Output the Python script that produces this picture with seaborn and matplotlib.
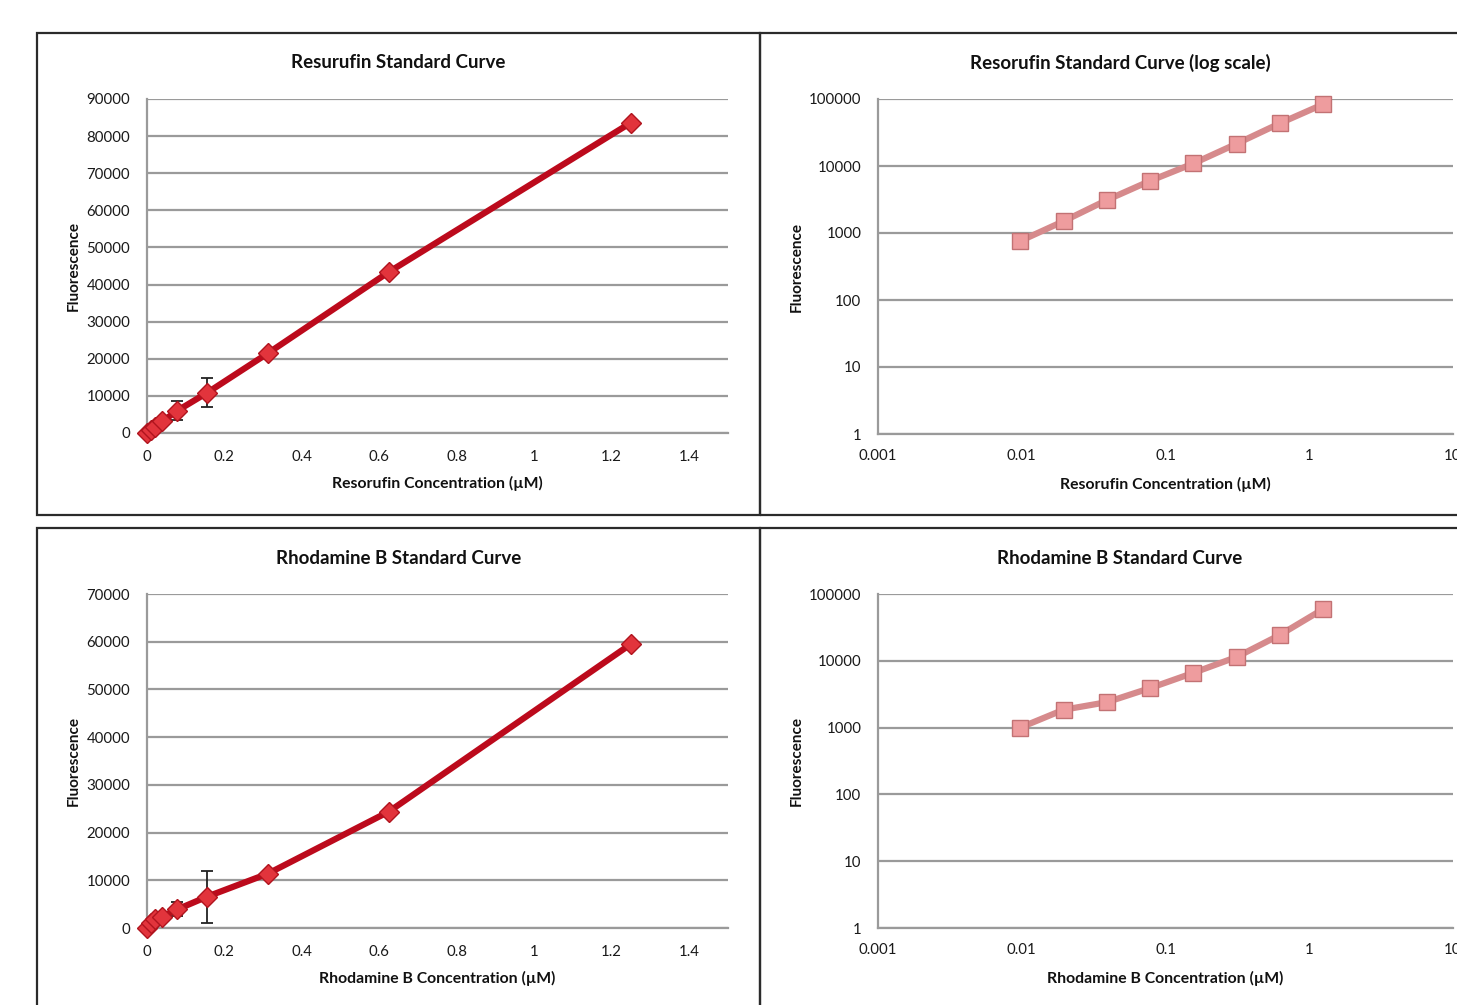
import matplotlib
matplotlib.use("Agg")
import matplotlib.pyplot as plt
import matplotlib.ticker as mticker
from matplotlib.patches import Rectangle
import seaborn as sns
import numpy as np

# ---------------- data ----------------
concentration = [0, 0.009765625, 0.01953125, 0.0390625, 0.078125, 0.15625, 0.3125, 0.625, 1.25]
resorufin_fluor = [0, 760, 1500, 3100, 6000, 10900, 21500, 43400, 83600]
resorufin_err = [0, 0, 0, 0, 2550, 3900, 0, 0, 0]
rhodamine_fluor = [0, 1000, 1850, 2400, 3900, 6600, 11400, 24400, 59500]
rhodamine_err = [0, 0, 0, 0, 1450, 5450, 0, 0, 0]

titles = ["Resurufin Standard Curve", "Resorufin Standard Curve (log scale)",
          "Rhodamine B Standard Curve", "Rhodamine B Standard Curve"]
xlabels = ["Resorufin Concentration (\u00b5M)", "Resorufin Concentration (\u00b5M)",
           "Rhodamine B Concentration (\u00b5M)", "Rhodamine B Concentration (\u00b5M)"]
ylabel = "Fluorescence"

sns.set_style("white")
plt.rcParams['font.family'] = ['Lato', 'DejaVu Sans']

W, H = 1457, 1005
fig = plt.figure(figsize=(W / 100, H / 100), dpi=100)

GRID = '#9a9a9a'
LIN_LINE = '#BC0A1C'
LIN_FACE = '#E2343C'
LIN_EDGE = '#B0141E'
LOG_LINE = '#D68A8C'
LOG_FACE = '#EE9C9E'
LOG_EDGE = '#C27274'


def px_axes(l, r, t, b):
    return fig.add_axes([l / W, 1 - b / H, (r - l) / W, (b - t) / H])


def box(l, t, r, b):
    fig.patches.append(Rectangle((l / W, 1 - b / H), (r - l) / W, (b - t) / H,
                                 transform=fig.transFigure, fill=False,
                                 edgecolor='#2b2b2b', linewidth=1.6, zorder=0))


box(37, 33, 760, 515)
box(760, 33, 1600, 515)
box(37, 528, 760, 1200)
box(760, 528, 1600, 1200)


def title_at(x, y, text):
    fig.text(x / W, 1 - y / H, text, ha='center', va='center', fontsize=13.5,
             fontweight='bold', color='#111111')


def style_common(ax):
    for s in ['top', 'right']:
        ax.spines[s].set_visible(False)
    for s in ['left', 'bottom']:
        ax.spines[s].set_color(GRID)
        ax.spines[s].set_linewidth(1.6)
    ax.yaxis.grid(True, which='major', color=GRID, linewidth=1.6)
    ax.xaxis.grid(False)
    ax.set_axisbelow(True)
    ax.tick_params(labelsize=10.8, colors=GRID, labelcolor='#1a1a1a')


def linear_panel(ax, y, err, ymax, ystep, xlabel):
    ax.errorbar(concentration, y, yerr=err, fmt='none', ecolor='#222222',
                elinewidth=1.3, capsize=4, capthick=1.3, zorder=2)
    sns.lineplot(x=concentration, y=y, ax=ax, color=LIN_LINE, linewidth=4.5,
                 marker='D', markersize=10, markerfacecolor=LIN_FACE,
                 markeredgecolor=LIN_EDGE, markeredgewidth=1, zorder=3,
                 clip_on=False)
    ax.set_xlim(0, 1.5)
    ax.set_ylim(0, ymax)
    ax.set_xticks(np.arange(0, 1.41, 0.2))
    ax.xaxis.set_major_formatter(mticker.FuncFormatter(lambda v, p: f'{v:g}'))
    ax.set_yticks(np.arange(0, ymax + 1, ystep))
    ax.yaxis.set_major_formatter(mticker.FuncFormatter(lambda v, p: f'{int(v)}'))
    style_common(ax)
    ax.tick_params(axis='x', length=5, width=1.4, direction='out', pad=7)
    ax.tick_params(axis='y', length=0, pad=12)
    ax.set_xlabel(xlabel, fontsize=11.3, fontweight='bold', labelpad=9, color='#111111')
    ax.set_ylabel(ylabel, fontsize=11, fontweight='bold', labelpad=4, color='#111111')


def log_panel(ax, y, xlabel):
    sns.lineplot(x=concentration[1:], y=y[1:], ax=ax, color=LOG_LINE, linewidth=4.5,
                 marker='s', markersize=12, markerfacecolor=LOG_FACE,
                 markeredgecolor=LOG_EDGE, markeredgewidth=1, zorder=3,
                 clip_on=False)
    ax.set_xscale('log')
    ax.set_yscale('log')
    ax.set_xlim(0.001, 10)
    ax.set_ylim(1, 100000)
    ax.xaxis.set_major_locator(mticker.FixedLocator([0.001, 0.01, 0.1, 1, 10]))
    ax.xaxis.set_major_formatter(mticker.FuncFormatter(lambda v, p: f'{v:g}'))
    ax.yaxis.set_major_locator(mticker.FixedLocator([1, 10, 100, 1000, 10000, 100000]))
    ax.yaxis.set_major_formatter(mticker.FuncFormatter(lambda v, p: f'{int(round(v))}'))
    ax.xaxis.set_minor_locator(mticker.LogLocator(base=10, subs=np.arange(2, 10)))
    ax.yaxis.set_minor_locator(mticker.LogLocator(base=10, subs=np.arange(2, 10)))
    ax.xaxis.set_minor_formatter(mticker.NullFormatter())
    ax.yaxis.set_minor_formatter(mticker.NullFormatter())
    style_common(ax)
    ax.tick_params(axis='x', which='major', length=5, width=1.4, direction='out', pad=6)
    ax.tick_params(axis='x', which='minor', length=4, width=1.2, direction='out', colors=GRID)
    ax.tick_params(axis='y', which='major', length=5, width=1.4, direction='out', pad=7)
    ax.tick_params(axis='y', which='minor', length=3, width=1.0, direction='out', colors=GRID)
    ax.set_xlabel(xlabel, fontsize=11.3, fontweight='bold', labelpad=10, color='#111111')
    ax.set_ylabel(ylabel, fontsize=11, fontweight='bold', labelpad=4, color='#111111')


ax1 = px_axes(147, 727.6, 99, 433)
linear_panel(ax1, resorufin_fluor, resorufin_err, 90000, 10000, xlabels[0])
title_at(398.5, 63, titles[0])

ax2 = px_axes(878, 1453, 99, 434)
log_panel(ax2, resorufin_fluor, xlabels[1])
title_at(1120, 63, titles[1])

ax3 = px_axes(147, 727.6, 594, 928)
linear_panel(ax3, rhodamine_fluor, rhodamine_err, 70000, 10000, xlabels[2])
title_at(398.5, 558, titles[2])

ax4 = px_axes(878, 1453, 594, 928)
log_panel(ax4, rhodamine_fluor, xlabels[3])
title_at(1120, 558, titles[3])

fig.savefig('out.png', dpi=100, facecolor='white')
